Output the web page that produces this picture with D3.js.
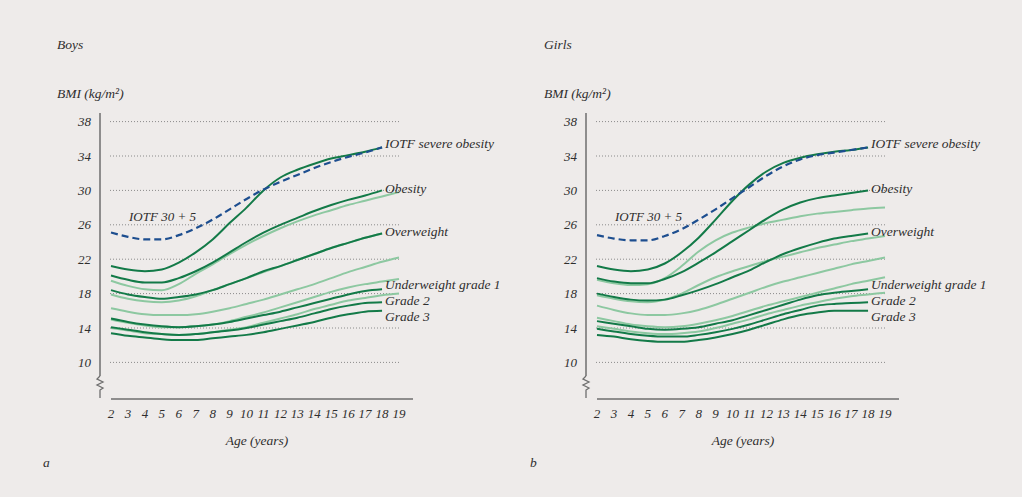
<!DOCTYPE html>
<html>
<head>
<meta charset="utf-8">
<script src="https://cdn.jsdelivr.net/npm/d3@7"></script>
<style>
  body { margin: 0; background: #eeebea; }
  svg text { font-family: "Liberation Serif", serif; font-style: italic; fill: #2e2e2e; }
</style>
</head>
<body>
<div id="chart"></div>
<script>
const ages = d3.range(2, 19);        // 2..18, reference cut-offs
const agesLong = d3.range(2, 20);    // 2..19, light reference lines
const yTicks = [10, 14, 18, 22, 26, 30, 34, 38];
const xTicks = d3.range(2, 20);

// boys
const boysSevere = [21.2, 20.8, 20.6, 20.8, 21.6, 22.8, 24.3, 26.2, 28.0, 30.0, 31.5, 32.4, 33.1, 33.7, 34.1, 34.5, 35.0];
const boysPlus5 = [25.1, 24.6, 24.3, 24.3, 24.8, 25.6, 26.6, 27.8, 29.0, 30.1, 31.0, 31.8, 32.6, 33.3, 33.9, 34.4, 35.0];
const boysObesity = [20.1, 19.6, 19.3, 19.3, 19.8, 20.6, 21.6, 22.8, 24.0, 25.1, 26.0, 26.8, 27.6, 28.3, 28.9, 29.4, 30.0];
const boysOverweight = [18.4, 17.9, 17.6, 17.4, 17.6, 17.9, 18.4, 19.1, 19.8, 20.6, 21.2, 21.9, 22.6, 23.3, 23.9, 24.5, 25.0];
const boysGrade1 = [15.1, 14.7, 14.4, 14.2, 14.1, 14.2, 14.4, 14.7, 15.1, 15.5, 15.9, 16.4, 16.9, 17.4, 17.9, 18.3, 18.5];
const boysGrade2 = [14.1, 13.8, 13.5, 13.3, 13.2, 13.3, 13.5, 13.7, 14.0, 14.4, 14.8, 15.2, 15.7, 16.2, 16.6, 16.9, 17.0];
const boysGrade3 = [13.4, 13.1, 12.9, 12.7, 12.6, 12.6, 12.8, 13.0, 13.2, 13.5, 13.9, 14.3, 14.7, 15.2, 15.6, 15.9, 16.0];
const boysRef1 = [19.5, 18.9, 18.5, 18.4, 19.1, 20.3, 21.4, 22.6, 23.7, 24.7, 25.6, 26.4, 27.1, 27.7, 28.3, 28.8, 29.3, 29.8];
const boysRef2 = [17.9, 17.4, 17.1, 17.0, 17.2, 17.7, 18.4, 19.1, 19.8, 20.5, 21.2, 21.9, 22.6, 23.3, 23.9, 24.5, 25.0];
const boysRef3 = [16.3, 15.9, 15.6, 15.5, 15.5, 15.6, 15.9, 16.3, 16.8, 17.3, 17.9, 18.5, 19.1, 19.8, 20.5, 21.1, 21.7, 22.2];
const boysRef4 = [15.0, 14.6, 14.3, 14.1, 14.1, 14.2, 14.4, 14.8, 15.3, 15.8, 16.4, 17.0, 17.6, 18.2, 18.7, 19.1, 19.4, 19.7];
const boysRef5 = [14.0, 13.7, 13.4, 13.3, 13.2, 13.3, 13.5, 13.8, 14.1, 14.6, 15.1, 15.6, 16.2, 16.7, 17.2, 17.5, 17.8, 18.0];

// girls
const girlsSevere = [21.2, 20.8, 20.6, 20.8, 21.5, 22.8, 24.5, 26.6, 28.8, 30.7, 32.2, 33.2, 33.8, 34.2, 34.5, 34.7, 35.0];
const girlsPlus5 = [24.8, 24.4, 24.2, 24.2, 24.7, 25.5, 26.6, 27.8, 29.1, 30.4, 31.7, 32.8, 33.6, 34.1, 34.4, 34.7, 35.0];
const girlsObesity = [19.8, 19.4, 19.2, 19.2, 19.7, 20.5, 21.6, 22.8, 24.1, 25.4, 26.7, 27.8, 28.6, 29.1, 29.4, 29.7, 30.0];
const girlsOverweight = [18.0, 17.6, 17.3, 17.2, 17.3, 17.8, 18.4, 19.1, 19.9, 20.7, 21.7, 22.6, 23.3, 23.9, 24.4, 24.7, 25.0];
const girlsGrade1 = [14.8, 14.5, 14.2, 13.9, 13.8, 13.9, 14.1, 14.5, 14.9, 15.5, 16.1, 16.7, 17.3, 17.8, 18.1, 18.3, 18.5];
const girlsGrade2 = [13.9, 13.6, 13.3, 13.1, 13.0, 13.0, 13.2, 13.5, 13.9, 14.4, 15.0, 15.6, 16.1, 16.6, 16.8, 16.9, 17.0];
const girlsGrade3 = [13.2, 13.0, 12.7, 12.5, 12.4, 12.4, 12.6, 12.9, 13.3, 13.8, 14.4, 15.0, 15.5, 15.8, 16.0, 16.0, 16.0];
const girlsRef1 = [19.6, 19.2, 19.0, 19.1, 19.8, 21.2, 22.9, 24.2, 25.1, 25.7, 26.2, 26.6, 27.0, 27.3, 27.5, 27.7, 27.9, 28.0];
const girlsRef2 = [17.8, 17.4, 17.1, 17.0, 17.3, 18.0, 19.0, 19.9, 20.6, 21.2, 21.8, 22.3, 22.8, 23.3, 23.7, 24.1, 24.4, 24.7];
const girlsRef3 = [16.6, 16.1, 15.7, 15.5, 15.5, 15.7, 16.1, 16.7, 17.4, 18.1, 18.8, 19.4, 19.9, 20.4, 20.9, 21.4, 21.8, 22.2];
const girlsRef4 = [15.2, 14.8, 14.4, 14.2, 14.1, 14.2, 14.5, 14.9, 15.4, 16.0, 16.6, 17.1, 17.6, 18.1, 18.6, 19.1, 19.5, 19.9];
const girlsRef5 = [14.2, 13.9, 13.6, 13.4, 13.3, 13.4, 13.6, 14.0, 14.5, 15.0, 15.6, 16.1, 16.6, 17.0, 17.4, 17.7, 17.9, 18.1];

const lineLabels = ["IOTF severe obesity", "Obesity", "Overweight", "Underweight grade 1", "Grade 2", "Grade 3"];
const labelY = [35.5, 30.2, 25.3, 19.1, 17.25, 15.4];

const width = 1022;
const height = 497;
const dark = "#137a48";
const light = "#8dc8a1";
const blue = "#1d4e8f";

const svg = d3.select("#chart").append("svg").attr("width", width).attr("height", height);
svg.append("rect").attr("width", width).attr("height", height).attr("fill", "#eeebea");

const y = d3.scaleLinear().domain([10, 38]).range([362.4, 121.6]);

const panels = [
  { title: "Boys", letter: "a", left: 57, axisX: 100, x0: 111, x1: 399,
    cut: [boysSevere, boysObesity, boysOverweight, boysGrade1, boysGrade2, boysGrade3],
    refs: [boysRef1, boysRef3, boysRef4, boysRef5], ref2: boysRef2, plus5: boysPlus5 },
  { title: "Girls", letter: "b", left: 544, axisX: 586, x0: 597, x1: 885,
    cut: [girlsSevere, girlsObesity, girlsOverweight, girlsGrade1, girlsGrade2, girlsGrade3],
    refs: [girlsRef1, girlsRef2, girlsRef3, girlsRef4, girlsRef5], ref2: null, plus5: girlsPlus5 }
];

panels.forEach((p) => {
  const g = svg.append("g");
  const x = d3.scaleLinear().domain([2, 19]).range([p.x0, p.x1]);

  g.append("text").attr("x", p.left).attr("y", 49).attr("font-size", 13.5).text(p.title);
  g.append("text").attr("x", p.left).attr("y", 98).attr("font-size", 13.5).text("BMI (kg/m²)");
  g.append("text").attr("x", p.left - 14).attr("y", 467).attr("font-size", 13.5).text(p.letter);

  // grid
  g.selectAll(".grid")
    .data(yTicks)
    .enter()
    .append("line")
    .attr("x1", x(2) - 1)
    .attr("x2", x(19) + 1)
    .attr("y1", (d) => y(d))
    .attr("y2", (d) => y(d))
    .attr("stroke", "#8a8a8a")
    .attr("stroke-width", 1)
    .attr("stroke-dasharray", "1,2");

  g.selectAll(".ytick")
    .data(yTicks)
    .enter()
    .append("text")
    .attr("x", p.axisX - 9)
    .attr("y", (d) => y(d))
    .attr("dy", "0.35em")
    .attr("text-anchor", "end")
    .attr("font-size", 13)
    .text((d) => d);

  // y axis with break
  g.append("line").attr("x1", p.axisX).attr("x2", p.axisX).attr("y1", 113).attr("y2", 376)
    .attr("stroke", "#6e6e6e").attr("stroke-width", 1.5);
  g.append("path")
    .attr("d", `M${p.axisX},376 l-3,3 l6,3 l-6,3 l6,3 l-3,2 v8`)
    .attr("fill", "none").attr("stroke", "#6e6e6e").attr("stroke-width", 1.3);

  // x axis
  g.append("line").attr("x1", x(2)).attr("x2", x(19) + 14).attr("y1", 399).attr("y2", 399)
    .attr("stroke", "#6e6e6e").attr("stroke-width", 1.5);
  g.selectAll(".xtick")
    .data(xTicks)
    .enter()
    .append("text")
    .attr("x", (d) => x(d))
    .attr("y", 418)
    .attr("text-anchor", "middle")
    .attr("font-size", 13)
    .text((d) => d);
  g.append("text").attr("x", (p.x0 + p.x1) / 2 + 2).attr("y", 445).attr("text-anchor", "middle")
    .attr("font-size", 13.5).text("Age (years)");

  const lineLong = d3.line().x((d, i) => x(agesLong[i])).y((d) => y(d)).curve(d3.curveMonotoneX);
  const lineShort = d3.line().x((d, i) => x(ages[i])).y((d) => y(d)).curve(d3.curveMonotoneX);

  // light reference lines
  p.refs.forEach((r) => {
    g.append("path").attr("d", lineLong(r)).attr("fill", "none").attr("stroke", light).attr("stroke-width", 2);
  });
  if (p.ref2) {
    g.append("path").attr("d", lineShort(p.ref2)).attr("fill", "none").attr("stroke", light).attr("stroke-width", 2);
  }

  // dark cut-off lines
  p.cut.forEach((c) => {
    g.append("path").attr("d", lineShort(c)).attr("fill", "none").attr("stroke", dark).attr("stroke-width", 2);
  });

  // IOTF 30 + 5
  g.append("path").attr("d", lineShort(p.plus5)).attr("fill", "none").attr("stroke", blue)
    .attr("stroke-width", 2.2).attr("stroke-dasharray", "7,4");
  g.append("text").attr("x", x(2) + 18).attr("y", 221).attr("font-size", 13).text("IOTF 30 + 5");

  // end labels
  g.selectAll(".endlabel")
    .data(lineLabels)
    .enter()
    .append("text")
    .attr("x", x(18) + 3)
    .attr("y", (d, i) => y(labelY[i]))
    .attr("dy", "0.35em")
    .attr("font-size", 13.5)
    .text((d) => d);
});
</script>
</body>
</html>
